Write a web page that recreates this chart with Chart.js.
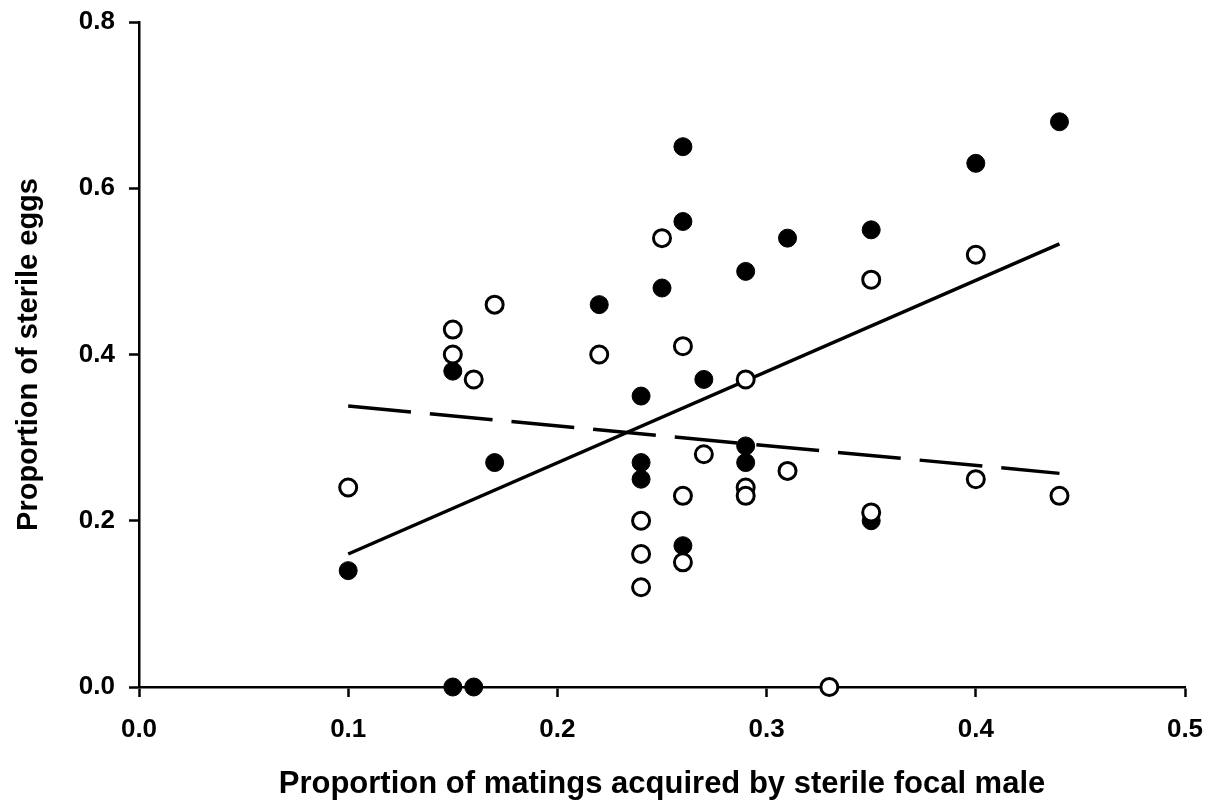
<!DOCTYPE html>
<html>
<head>
<meta charset="utf-8">
<script src="https://cdn.jsdelivr.net/npm/chart.js@4/dist/chart.umd.min.js"></script>
<style>
  html, body { margin: 0; padding: 0; background: #ffffff; }
  #chart_box { display: block; }
</style>
</head>
<body>
<canvas id="chart_box" width="1221" height="807"></canvas>
<script>
//-------------------
// data
//-------------------
var filledX = [0.10, 0.15, 0.16, 0.15, 0.17, 0.22, 0.25, 0.26, 0.26, 0.24, 0.24, 0.24, 0.26, 0.27, 0.29, 0.29, 0.29, 0.31, 0.35, 0.35, 0.40, 0.44];
var filledY = [0.14, 0.00, 0.00, 0.38, 0.27, 0.46, 0.48, 0.65, 0.56, 0.35, 0.27, 0.25, 0.17, 0.37, 0.50, 0.29, 0.27, 0.54, 0.55, 0.20, 0.63, 0.68];

var openX = [0.10, 0.15, 0.15, 0.16, 0.17, 0.22, 0.25, 0.26, 0.24, 0.24, 0.24, 0.26, 0.26, 0.27, 0.29, 0.29, 0.29, 0.31, 0.33, 0.35, 0.35, 0.40, 0.40, 0.44];
var openY = [0.24, 0.43, 0.40, 0.37, 0.46, 0.40, 0.54, 0.41, 0.20, 0.16, 0.12, 0.23, 0.15, 0.28, 0.37, 0.24, 0.23, 0.26, 0.00, 0.49, 0.21, 0.52, 0.25, 0.23];

// fitted lines (end points)
var fitX = [0.10, 0.44];
var solidFitY = [0.16, 0.533];
var dashedFitY = [0.338, 0.257];

var xTicks = [0.0, 0.1, 0.2, 0.3, 0.4, 0.5];
var yTicks = [0.0, 0.2, 0.4, 0.6, 0.8];

var xTitle = "Proportion of matings acquired by sterile focal male";
var yTitle = "Proportion of sterile eggs";

var fontFamily = "'Liberation Sans', Arial, Helvetica, sans-serif";

function toPoints(xs, ys) {
    var pts = [];
    for (var i = 0; i < xs.length; i++) {
        pts.push({ x: xs[i], y: ys[i] });
    }
    return pts;
}

// white page behind the plot
var whiteBg = {
    id: 'whiteBg',
    beforeDraw: function (chart) {
        var c = chart.ctx;
        c.save();
        c.fillStyle = '#ffffff';
        c.fillRect(0, 0, chart.width, chart.height);
        c.restore();
    }
};

var ctx = document.getElementById('chart_box').getContext('2d');
var chart = new Chart(ctx, {
    type: 'scatter',
    data: {
        datasets: [
            {
                label: 'open',
                data: toPoints(openX, openY),
                pointRadius: 8.5,
                pointBorderWidth: 3,
                pointBackgroundColor: '#ffffff',
                pointBorderColor: '#000000',
                clip: false,
                order: 1
            },
            {
                label: 'filled',
                data: toPoints(filledX, filledY),
                pointRadius: 9,
                pointBorderWidth: 1,
                pointBackgroundColor: '#000000',
                pointBorderColor: '#000000',
                clip: false,
                order: 2
            },
            {
                label: 'fit solid',
                type: 'line',
                data: toPoints(fitX, solidFitY),
                showLine: true,
                borderColor: '#000000',
                borderWidth: 3.5,
                pointRadius: 0,
                fill: false,
                order: 3
            },
            {
                label: 'fit dashed',
                type: 'line',
                data: toPoints(fitX, dashedFitY),
                showLine: true,
                borderColor: '#000000',
                borderWidth: 3.5,
                borderDash: [63, 19],
                pointRadius: 0,
                fill: false,
                order: 3
            }
        ]
    },
    options: {
        responsive: false,
        animation: false,
        devicePixelRatio: 1,
        layout: {
            padding: { top: 22, right: 36, bottom: 0, left: 0 }
        },
        plugins: {
            legend: { display: false },
            tooltip: { enabled: false }
        },
        scales: {
            x: {
                type: 'linear',
                min: 0,
                max: 0.5,
                afterFit: function (scale) {
                    scale.height = 120;
                    scale.paddingLeft = 0;
                    scale.paddingRight = 0;
                },
                afterBuildTicks: function (scale) {
                    scale.ticks = xTicks.map(function (v) { return { value: v }; });
                },
                border: { display: true, color: '#000000', width: 2.5 },
                grid: {
                    drawOnChartArea: false,
                    drawTicks: true,
                    tickLength: 10,
                    tickWidth: 2.5,
                    tickColor: '#000000'
                },
                ticks: {
                    color: '#000000',
                    padding: 17,
                    maxRotation: 0,
                    font: { family: fontFamily, size: 26, weight: 'bold' },
                    callback: function (v) { return Number(v).toFixed(1); }
                },
                title: {
                    display: true,
                    text: xTitle,
                    color: '#000000',
                    padding: { top: 0, bottom: 4 },
                    font: { family: fontFamily, size: 31, weight: 'bold' }
                }
            },
            y: {
                type: 'linear',
                min: 0,
                max: 0.8,
                afterFit: function (scale) {
                    scale.width = 139;
                    scale.paddingTop = 0;
                    scale.paddingBottom = 0;
                },
                afterBuildTicks: function (scale) {
                    scale.ticks = yTicks.map(function (v) { return { value: v }; });
                },
                border: { display: true, color: '#000000', width: 2.5 },
                grid: {
                    drawOnChartArea: false,
                    drawTicks: true,
                    tickLength: 10,
                    tickWidth: 2.5,
                    tickColor: '#000000'
                },
                ticks: {
                    color: '#000000',
                    padding: 14,
                    font: { family: fontFamily, size: 26, weight: 'bold' },
                    callback: function (v) { return Number(v).toFixed(1); }
                },
                title: {
                    display: true,
                    text: yTitle,
                    color: '#000000',
                    padding: { top: 12, bottom: 0 },
                    font: { family: fontFamily, size: 29, weight: 'bold' }
                }
            }
        }
    },
    plugins: [whiteBg]
});
</script>
</body>
</html>
